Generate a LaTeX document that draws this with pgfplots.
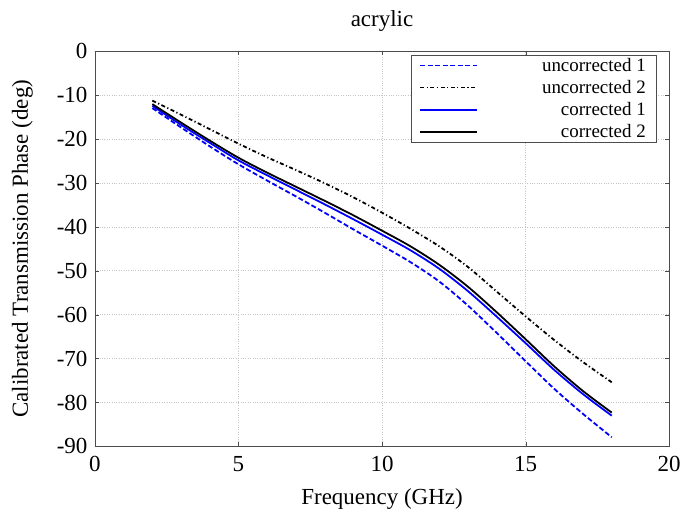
\documentclass[border=0pt]{standalone}
\usepackage{fontspec}
\setmainfont{Liberation Serif}
\usepackage{pgfplots}
\pgfplotsset{compat=1.18}

\pgfplotstableread{
x   u1     u2     c1     c2
2   -13.0  -11.3  -12.5  -12.1
3   -17.4  -14.5  -16.8  -16.3
4   -21.7  -17.8  -20.9  -20.4
5   -25.8  -21.1  -24.9  -24.3
6   -29.5  -24.2  -28.3  -27.7
7   -33.1  -27.1  -31.6  -30.9
8   -36.8  -30.1  -34.9  -34.1
9   -40.6  -33.3  -38.3  -37.4
10  -44.3  -36.8  -41.8  -40.9
11  -48.1  -40.5  -45.4  -44.5
12  -52.5  -44.5  -49.6  -48.7
13  -58.0  -49.2  -54.7  -53.7
14  -64.2  -54.8  -60.5  -59.5
15  -70.6  -60.4  -66.5  -65.6
16  -76.9  -65.8  -72.6  -71.8
17  -82.6  -70.8  -78.1  -77.4
18  -87.9  -75.4  -83.0  -82.3
}\phase

\begin{document}
\begin{tikzpicture}
\begin{axis}[
    scale only axis,
    width=575bp, height=396bp,
    xmin=0, xmax=20, ymin=-90, ymax=0,
    xtick={0,5,...,20},
    ytick={-90,-80,...,0},
    grid=major,
    grid style={dotted, gray!45},
    axis line style={gray!60!black},
    tick style={gray!60!black},
    tick align=inside,
    font=\fontsize{23bp}{27bp}\selectfont,
    /pgf/number format/assume math mode=true,
    xticklabel style={yshift=-6bp},
    yticklabel style={xshift=-4bp},
    title={acrylic},
    title style={yshift=10bp},
    xlabel={Frequency (GHz)},
    xlabel style={yshift=-10bp},
    ylabel={Calibrated Transmission Phase (deg)},
    ylabel style={yshift=17bp},
    legend style={at={(0.977,0.99)}, anchor=north east, draw=gray!60!black,
        font=\fontsize{19bp}{22bp}\selectfont, row sep=3.5bp,
        inner xsep=8bp, inner ysep=1bp,
        /tikz/every odd column/.append style={column sep=62bp}},
    legend cell align=right,
    legend image code/.code={\draw[#1] (0bp,0bp) -- (57bp,0bp);},
  ]
  \addplot[blue, line width=1.8pt, dash pattern=on 5pt off 2.5pt, smooth] table[x=x, y=u1] {\phase};
  \addplot[black, line width=1.8pt, dash pattern=on 4pt off 2.5pt on 1.2pt off 2.5pt, smooth] table[x=x, y=u2] {\phase};
  \addplot[blue, line width=1.8pt, smooth] table[x=x, y=c1] {\phase};
  \addplot[black, line width=1.8pt, smooth] table[x=x, y=c2] {\phase};
  \legend{uncorrected 1, uncorrected 2, corrected 1, corrected 2}
\end{axis}
\path ([shift={(-95bp,-71bp)}]current axis.south west) rectangle ([shift={(14bp,51bp)}]current axis.north east);
\end{tikzpicture}
\end{document}
